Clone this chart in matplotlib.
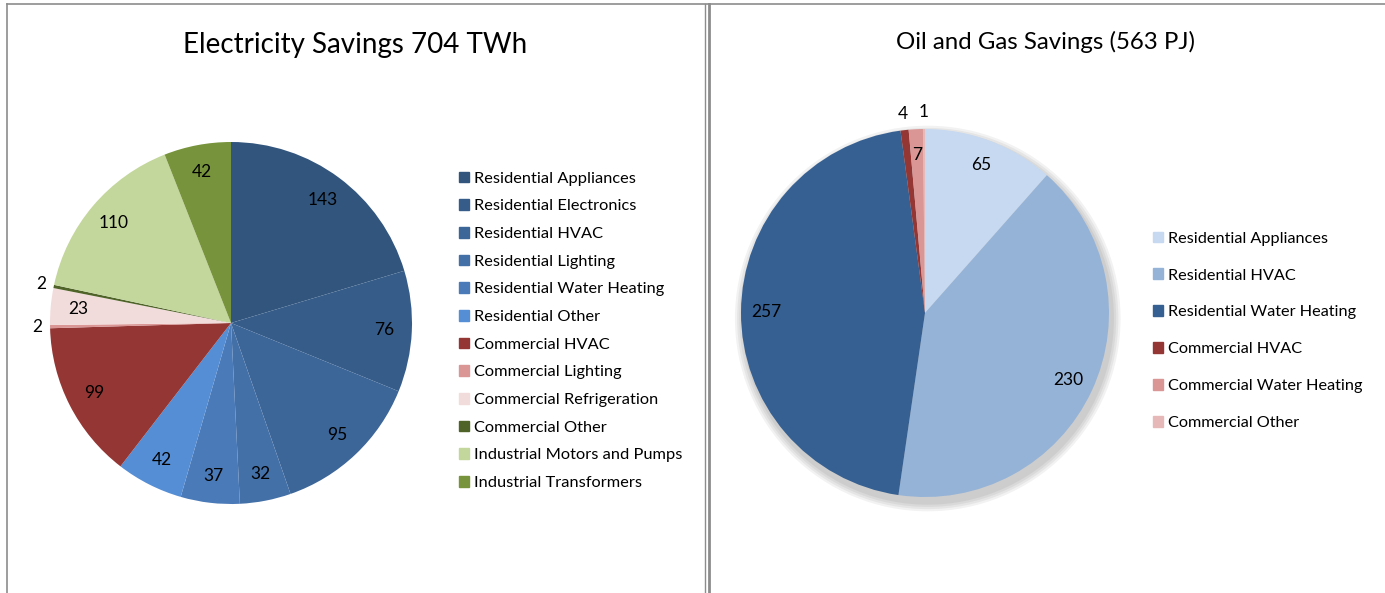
import numpy as np
import matplotlib.pyplot as plt
from matplotlib.lines import Line2D
from matplotlib.patches import Circle

plt.rcParams['font.family'] = ['Lato', 'DejaVu Sans']

# Electricity savings (TWh)
elec_labels = ['Residential Appliances', 'Residential Electronics', 'Residential HVAC',
               'Residential Lighting', 'Residential Water Heating', 'Residential Other',
               'Commercial HVAC', 'Commercial Lighting', 'Commercial Refrigeration',
               'Commercial Other', 'Industrial Motors and Pumps', 'Industrial Transformers']
elec_values = [143, 76, 95, 32, 37, 42, 99, 2, 23, 2, 110, 42]
elec_colors = ['#31557d', '#365d8a', '#3c6598', '#4470a8', '#4a7ab8', '#558ed5',
               '#943634', '#d99694', '#f2dcdb', '#4f6228', '#c3d69b', '#77933c']

# Oil and gas savings (PJ)
gas_labels = ['Residential Appliances', 'Residential HVAC', 'Residential Water Heating',
              'Commercial HVAC', 'Commercial Water Heating', 'Commercial Other']
gas_values = [65, 230, 257, 4, 7, 1]
gas_colors = ['#c6d9f1', '#95b3d7', '#366092', '#943634', '#d99694', '#e6b9b8']

W, H = 1385, 593
fig = plt.figure(figsize=(W / 100, H / 100), dpi=100)


def pix_axes(cx, cy, r):
    # axes placed by pixel centre / radius of the pie
    ax = fig.add_axes([(cx - r) / W, (H - cy - r) / H, 2 * r / W, 2 * r / H])
    return ax


def finish(ax):
    ax.set_xlim(-1, 1)
    ax.set_ylim(-1, 1)
    ax.axis('off')


def label_pie(ax, wedges, values, inner, outer, small=5):
    for w, v in zip(wedges, values):
        ang = np.deg2rad((w.theta1 + w.theta2) / 2)
        d = outer if v < small else inner
        ax.text(d * np.cos(ang), d * np.sin(ang), str(v), ha='center', va='center',
                fontsize=12.5, color='black')


# left pie
ax1 = pix_axes(231, 323, 181)
w1, _ = ax1.pie(elec_values, colors=elec_colors, startangle=90, counterclock=False,
                radius=1, wedgeprops=dict(linewidth=0))
finish(ax1)
label_pie(ax1, w1, elec_values, 0.85, 1.07)
fig.text(355 / W, 1 - 45 / H, 'Electricity Savings 704 TWh', ha='center', va='center',
         fontsize=20)
fig.legend([plt.Rectangle((0, 0), 1, 1, color=c) for c in elec_colors], elec_labels,
           loc='upper left', bbox_to_anchor=(452 / W, 1 - 165 / H), frameon=False,
           fontsize=11.8, handlelength=0.65, handleheight=0.65, handletextpad=0.3,
           labelspacing=0.82, borderaxespad=0)

# right pie with soft shadow
ax2 = pix_axes(925, 313, 184)
for i in range(4):
    ax2.add_patch(Circle((0.015, -0.03), 1.0 + 0.012 * (4 - i), color='black', alpha=0.05,
                         linewidth=0, zorder=0, clip_on=False))
w2, _ = ax2.pie(gas_values, colors=gas_colors, startangle=90, counterclock=False,
                radius=1, wedgeprops=dict(linewidth=0))
for w in w2:
    w.set_zorder(2)
finish(ax2)
label_pie(ax2, w2, gas_values, 0.86, 1.09, small=5)
fig.text(1046 / W, 1 - 42 / H, 'Oil and Gas Savings (563 PJ)', ha='center', va='center',
         fontsize=17.3)
fig.legend([plt.Rectangle((0, 0), 1, 1, color=c) for c in gas_colors], gas_labels,
           loc='upper left', bbox_to_anchor=(1146 / W, 1 - 225 / H), frameon=False,
           fontsize=11.7, handlelength=0.65, handleheight=0.65, handletextpad=0.3,
           labelspacing=1.4, borderaxespad=0)

# panel borders
gray = '#8c8c8c'
fig.add_artist(Line2D([7 / W, 1], [1 - 4 / H, 1 - 4 / H], color=gray, lw=1.2))
fig.add_artist(Line2D([7 / W, 7 / W], [0, 1 - 4 / H], color=gray, lw=1.2))
fig.add_artist(Line2D([705 / W, 705 / W], [0, 1 - 4 / H], color=gray, lw=1.0))
fig.add_artist(Line2D([708.5 / W, 708.5 / W], [0, 1 - 4 / H], color=gray, lw=2.0))

fig.savefig('out.png', dpi=100)
